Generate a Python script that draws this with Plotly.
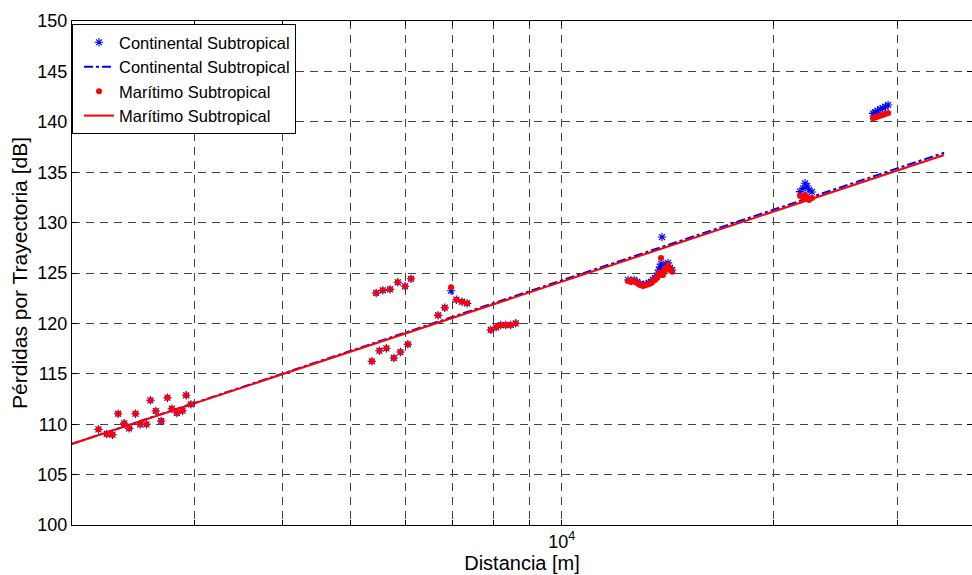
import plotly.graph_objects as go

# ---------------- data ----------------
# measured points: distance [m] and path loss [dB]
dist_pts = [2191, 2252, 2294, 2337, 2384, 2423, 2474, 2512, 2564, 2598, 2644, 2691,
            2747, 2787, 2833, 2886, 2921, 2966,
            5443, 5563, 5697, 5843, 5984, 6103,
            5367, 5502, 5629, 5768, 5894, 6039,
            6669, 6816, 6958, 7079, 7213, 7333,
            7925, 8064, 8188, 8323, 8460, 8600,
            12428, 12551, 12676, 12798, 12925, 13054, 13180, 13310, 13399, 13486,
            13575, 13663, 13708, 13752, 13800, 13844, 13889, 13934, 13982, 14028,
            14118, 14167, 14259, 14354,
            21834, 22045, 22192, 22336, 22485, 22703,
            27729, 27914, 28150, 28390, 28620, 28880, 29136]

loss_cont = [109.49, 109.03, 108.96, 111.04, 110.09, 109.59, 111.04, 109.99, 109.99, 112.37, 111.31, 110.32,
             112.63, 111.54, 111.11, 111.34, 112.87, 111.97,
             123.02, 123.28, 123.38, 124.08, 123.68, 124.43,
             116.24, 117.29, 117.53, 116.57, 117.16, 117.93,
             120.80, 121.56, 123.24, 122.35, 122.15, 121.99,
             119.35, 119.61, 119.84, 119.84, 119.84, 120.01,
             124.31, 124.21, 124.31, 124.11, 123.91, 123.81, 123.91, 124.01, 124.11, 124.31,
             124.50, 124.70, 125.00, 125.30, 125.60, 125.90, 128.57, 125.10, 125.50, 125.80,
             125.69, 126.00, 125.50, 125.30,
             133.07, 133.40, 133.90, 133.63, 133.23, 133.04,
             140.84, 140.95, 141.10, 141.25, 141.35, 141.50, 141.67]

loss_mar = [109.49, 109.03, 108.96, 111.04, 110.09, 109.59, 111.04, 109.99, 109.99, 112.37, 111.31, 110.32,
            112.63, 111.54, 111.11, 111.34, 112.87, 111.97,
            123.02, 123.28, 123.38, 124.08, 123.68, 124.43,
            116.24, 117.29, 117.53, 116.57, 117.16, 117.93,
            120.80, 121.56, 123.58, 122.35, 122.15, 121.99,
            119.35, 119.61, 119.84, 119.84, 119.84, 120.01,
            124.21, 124.11, 124.21, 124.01, 123.81, 123.71, 123.81, 123.91, 124.01, 124.21,
            124.31, 124.50, 124.70, 125.00, 124.90, 126.49, 124.80, 124.80, 125.20, 125.50,
            125.40, 125.80, 125.30, 125.13,
            132.64, 132.44, 132.74, 132.54, 132.24, 132.44,
            140.35, 140.42, 140.50, 140.60, 140.68, 140.78, 140.87]

# model lines
dist_model = [2000, 5000, 10000, 20000, 35000]
model_cont = [108.0, 117.25, 124.25, 131.3, 136.93]
model_mar = [108.0, 117.18, 124.13, 131.07, 136.7]

# axis ticks
x_tickvals = [3000, 4000, 5000, 6000, 7000, 8000, 9000, 10000, 20000, 30000]
x_ticktext = ["", "", "", "", "", "", "", "10<sup>4</sup>", "", ""]
y_tickvals = [100, 105, 110, 115, 120, 125, 130, 135, 140, 145, 150]

# ---------------- figure ----------------
fig = go.Figure()

fig.add_trace(go.Scatter(
    x=dist_pts, y=loss_cont, mode="markers", name="Continental Subtropical",
    marker=dict(symbol="asterisk-open", size=7, color="#0000ff",
                line=dict(color="#0000ff", width=1.1))))
fig.add_trace(go.Scatter(
    x=dist_model, y=model_cont, mode="lines", name="Continental Subtropical",
    line=dict(color="#0000ff", width=2, dash="dashdot")))
fig.add_trace(go.Scatter(
    x=dist_pts, y=loss_mar, mode="markers", name="Marítimo Subtropical",
    marker=dict(symbol="circle", size=6, color="#ff0000", line=dict(width=0))))
fig.add_trace(go.Scatter(
    x=dist_model, y=model_mar, mode="lines", name="Marítimo Subtropical",
    line=dict(color="#ff0000", width=2)))

font_family = "Liberation Sans, Arial, sans-serif"

fig.update_layout(
    width=972, height=575,
    margin=dict(l=72, r=0, t=21, b=50, autoexpand=False),
    paper_bgcolor="white", plot_bgcolor="white",
    font=dict(family=font_family, size=16, color="black"),
    showlegend=True,
    legend=dict(x=0, y=0.994, xanchor="left", yanchor="top",
                bgcolor="white", bordercolor="black", borderwidth=1,
                font=dict(family=font_family, size=16.5, color="black"),
                tracegroupgap=0, itemwidth=30, indentation=6),
)

fig.update_xaxes(
    type="log", range=[3.3030, 4.5838], automargin=False,
    tickmode="array", tickvals=x_tickvals, ticktext=x_ticktext,
    showgrid=True, gridcolor="#444444", gridwidth=1, griddash="8px,6px",
    showline=True, linecolor="black", linewidth=1, mirror="ticks",
    ticks="inside", ticklen=5, tickcolor="black",
    tickfont=dict(size=18), zeroline=False,
    title=dict(text="Distancia [m]", font=dict(size=20), standoff=0),
)
fig.update_yaxes(
    range=[100, 150], tickmode="array", tickvals=y_tickvals, automargin=False,
    showgrid=True, gridcolor="#444444", gridwidth=1, griddash="8px,6px",
    showline=True, linecolor="black", linewidth=1, mirror="ticks",
    ticks="inside", ticklen=5, tickcolor="black",
    tickfont=dict(size=18), zeroline=False,
    title=dict(text="Pérdidas por Trayectoria [dB]", font=dict(size=21), standoff=4),
)

fig.write_html(
    "out.html",
    config={"displayModeBar": False},
    post_script="document.body.style.margin='0';document.body.style.overflow='hidden';"
                "window.dispatchEvent(new Event('resize'));",
)
